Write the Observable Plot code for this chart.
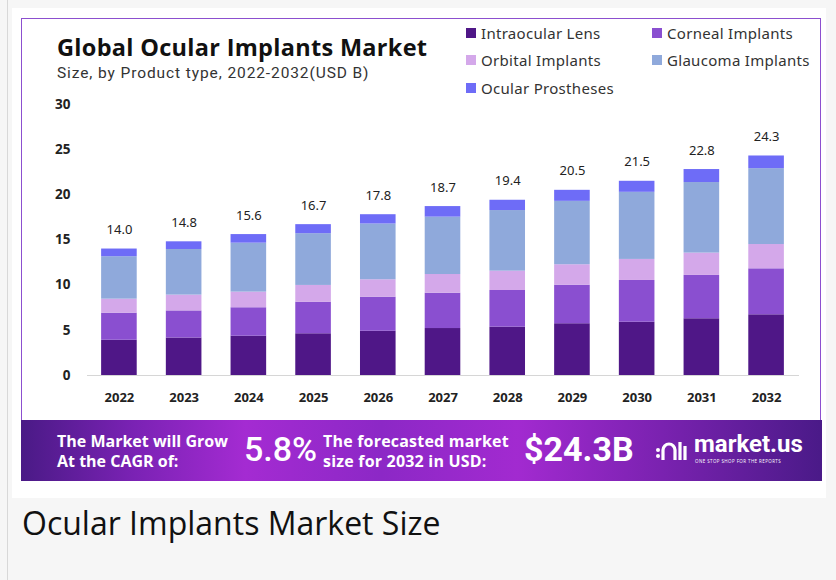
<!DOCTYPE html>
<html>
<head>
<meta charset="utf-8">
<script src="https://cdn.jsdelivr.net/npm/d3@7"></script>
<script src="https://cdn.jsdelivr.net/npm/@observablehq/plot@0.6"></script>
<style>
  html, body { margin: 0; padding: 0; }
  body { width: 836px; height: 580px; background: #f6f6f6; position: relative; overflow: hidden; font-family: "Open Sans", sans-serif; }
  .abs { position: absolute; }
  #leftline { left: 7px; top: 0; width: 1px; height: 580px; background: #d8d8d8; }
  #card { left: 12px; top: 8px; width: 814px; height: 490px; background: #fff; }
  #box { left: 21px; top: 18px; width: 800px; height: 402px; border: 1px solid #8c4fcf; border-bottom: none; box-sizing: border-box; }
  #title { left: 57px; top: 35px; font: 700 23.5px "Open Sans"; line-height: 24px; color: #111; white-space: nowrap; letter-spacing: 0.3px; }
  #subtitle { left: 57px; top: 63.5px; font: 400 15.5px Roboto; line-height: 18px; color: #333; white-space: nowrap; letter-spacing: 0.9px; }
  .leg { font: 400 15px "Noto Sans"; letter-spacing: 0.3px; color: #333; white-space: nowrap; display: flex; align-items: center; }
  .leg span.sw { width: 10px; height: 10px; display: inline-block; margin-right: 5px; }
  #banner { left: 21px; top: 420px; width: 801px; height: 61px; background: linear-gradient(90deg, #4a1a86 0%, #7a22b4 14%, #a42bd2 28%, #8c28c6 45%, #a22ad0 62%, #7a22b0 80%, #4a1a88 100%); }
  .bt { color: #fff; font-family: "Open Sans"; font-weight: 700; white-space: nowrap; }
  #caption { left: 22px; top: 501px; font: 400 32px "Open Sans"; line-height: 44px; color: #111; white-space: nowrap; }
</style>
</head>
<body>
<div id="leftline" class="abs"></div>
<div id="card" class="abs"></div>
<div id="box" class="abs"></div>
<div id="title" class="abs">Global Ocular Implants Market</div>
<div id="subtitle" class="abs">Size, by Product type, 2022-2032(USD B)</div>
<div id="legend"></div>
<div id="chart" class="abs" style="left:21px; top:95px;"></div>
<div id="banner" class="abs"></div>
<div class="abs bt" style="left:57px; top:431px; font-size:16px; line-height:20px;">The Market will Grow<br>At the CAGR of:</div>
<div class="abs bt" style="left:244px; top:428px; font-size:34px; font-weight:500; line-height:42px; font-family:Roboto;">5.8%</div>
<div class="abs bt" style="left:323px; top:431px; font-size:16px; line-height:20px; letter-spacing:0.2px;">The forecasted market<br>size for 2032 in USD:</div>
<div class="abs bt" style="left:524px; top:428px; font-size:34px; line-height:42px; font-family:Roboto;">$24.3B</div>
<div class="abs" style="left:655px; top:438px;">
  <svg width="34" height="26" viewBox="0 0 34 26">
    <circle cx="3" cy="12" r="2" fill="#fff"/>
    <circle cx="3" cy="18" r="2" fill="#fff"/>
    <path d="M8 22 V12 a6 6 0 0 1 12 0 V22" stroke="#fff" stroke-width="3.2" fill="none"/>
    <path d="M25 4 V22" stroke="#fff" stroke-width="3.2"/>
    <path d="M30 8 V22" stroke="#fff" stroke-width="3.2"/>
  </svg>
</div>
<div class="abs bt" style="left:694px; top:430px; font-size:24px; line-height:28px; font-family:Roboto;">market.us</div>
<div class="abs bt" style="left:695px; top:458px; font-size:4.5px; letter-spacing:0.4px; font-weight:400;">ONE STOP SHOP FOR THE REPORTS</div>
<div id="caption" class="abs">Ocular Implants Market Size</div>

<script>
const years = ["2022","2023","2024","2025","2026","2027","2028","2029","2030","2031","2032"];
const totals = [14.0, 14.8, 15.6, 16.7, 17.8, 18.7, 19.4, 20.5, 21.5, 22.8, 24.3];
const segments = ["Intraocular Lens", "Corneal Implants", "Orbital Implants", "Glaucoma Implants", "Ocular Prostheses"];
const colors = ["#4f1787", "#8a4fd0", "#d4a8ea", "#8fa9db", "#6e6cf7"];
const intraocular = [3.9, 4.15, 4.35, 4.62, 4.9, 5.2, 5.35, 5.73, 5.9, 6.28, 6.72];
const corneal     = [3.0, 3.0, 3.15, 3.5, 3.77, 3.91, 4.06, 4.27, 4.62, 4.8, 5.09];
const orbital     = [1.55, 1.75, 1.73, 1.85, 1.93, 2.07, 2.14, 2.26, 2.33, 2.47, 2.69];
const glaucoma    = [4.7, 5.05, 5.42, 5.73, 6.17, 6.35, 6.71, 7.02, 7.43, 7.81, 8.4];
const prostheses  = [0.85, 0.85, 0.95, 1.0, 1.03, 1.17, 1.14, 1.22, 1.22, 1.44, 1.4];
const yTicks = [0, 5, 10, 15, 20, 25, 30];

const series = [intraocular, corneal, orbital, glaucoma, prostheses];
const rows = [];
segments.forEach((s, si) => years.forEach((y, yi) => rows.push({year: y, segment: s, value: series[si][yi]})));
const totalRows = years.map((y, i) => ({year: y, total: totals[i]}));

// legend
const legend = document.getElementById("legend");
const legPos = [[466, 33], [652, 33], [466, 60], [652, 60], [466, 88]];
segments.forEach((s, k) => {
  const d = document.createElement("div");
  d.className = "abs leg";
  d.style.left = legPos[k][0] + "px";
  d.style.top = (legPos[k][1] - 10) + "px";
  d.style.height = "20px";
  d.innerHTML = `<span class="sw" style="background:${colors[k]}"></span>${s}`;
  legend.appendChild(d);
});

const chart = Plot.plot({
  width: 800,
  height: 315,
  marginLeft: 51,
  marginRight: 8,
  marginTop: 9,
  marginBottom: 35,
  style: {fontFamily: "Open Sans", background: "transparent", overflow: "visible"},
  x: {domain: years, padding: 0.45, round: false, label: null},
  y: {domain: [0, 30], label: null},
  color: {domain: segments, range: colors},
  marks: [
    Plot.ruleY([0], {stroke: "#d6d6d6", strokeWidth: 1.2, insetLeft: 15, insetRight: 14}),
    Plot.barY(rows, {x: "year", y: "value", fill: "segment", order: segments}),
    Plot.text(totalRows, {x: "year", y: "total", text: d => d.total.toFixed(1), dy: -19, fontSize: 13, fill: "#222", fontFamily: "Noto Sans"}),
    Plot.axisX({tickSize: 0, tickPadding: 17, fontSize: 13, fontWeight: 700, fill: "#222"}),
    Plot.axisY({ticks: yTicks, tickSize: 0, tickPadding: 2, fontSize: 13.5, fontWeight: 700, fill: "#222"})
  ]
});
document.getElementById("chart").appendChild(chart);
</script>
</body>
</html>
